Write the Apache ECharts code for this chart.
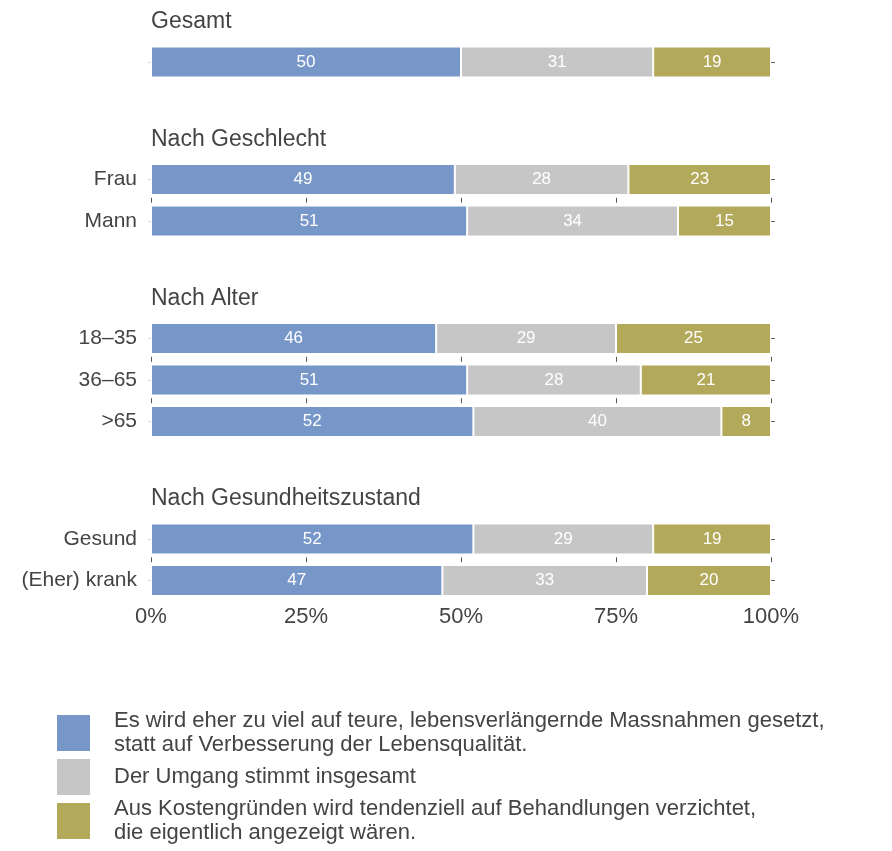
<!DOCTYPE html>
<html>
<head>
<meta charset="utf-8">
<script src="https://cdn.jsdelivr.net/npm/echarts@6/dist/echarts.min.js"></script>
<style>
  html, body { margin: 0; padding: 0; background: #fff; }
  #chart { width: 892px; height: 851px; }
</style>
</head>
<body>
<div id="chart"></div>
<script>
const categories = ['Gesamt', 'Frau', 'Mann', '18–35', '36–65', '>65', 'Gesund', '(Eher) krank']
const groups = ['Gesamt', 'Nach Geschlecht', 'Nach Alter', 'Nach Gesundheitszustand']
const groupOf = [0, 1, 1, 2, 2, 2, 3, 3]
const zuViel = [50, 49, 51, 46, 51, 52, 52, 47]
const stimmt = [31, 28, 34, 29, 28, 40, 29, 33]
const verzichtet = [19, 23, 15, 25, 21, 8, 19, 20]
const seriesNames = [
  'Es wird eher zu viel auf teure, lebensverlängernde Massnahmen gesetzt,\nstatt auf Verbesserung der Lebensqualität.',
  'Der Umgang stimmt insgesamt',
  'Aus Kostengründen wird tendenziell auf Behandlungen verzichtet,\ndie eigentlich angezeigt wären.',
]
const colors = ['#7897C9', '#C6C6C6', '#B3A95A']
const values = [zuViel, stimmt, verzichtet]

const font = 'Liberation Sans'
const rowH = 41.5
const groupGap = 76
const plotLeft = 151
const plotRight = 121

// row centres
let centers = []
let y = 62
categories.forEach((c, i) => {
  if (i > 0) y += rowH + (groupOf[i] !== groupOf[i - 1] ? groupGap : 0)
  centers.push(y)
})

const grid = [], xAxis = [], yAxis = [], series = [], title = []
categories.forEach((cat, i) => {
  const last = i === categories.length - 1
  const tickBelow = !last && groupOf[i + 1] === groupOf[i]
  // the "Gesamt" row carries no label of its own, only the heading
  const showLabel = cat !== groups[groupOf[i]]
  grid.push({ left: plotLeft, right: plotRight, top: centers[i] - rowH / 2, height: rowH })
  xAxis.push({
    gridIndex: i,
    type: 'value',
    min: 0,
    max: 100,
    interval: 25,
    offset: -2.5,
    axisLine: { show: false },
    axisTick: { show: tickBelow, length: 5, lineStyle: { color: '#555' } },
    splitLine: { show: false },
    axisLabel: {
      show: last,
      formatter: '{value}%',
      color: '#444',
      fontSize: 22,
      fontFamily: font,
      margin: 7,
    },
  })
  yAxis.push({
    gridIndex: i,
    type: 'category',
    data: [cat],
    axisLine: { show: false },
    axisTick: { show: true, alignWithLabel: true, length: 3, lineStyle: { color: '#ddd' } },
    axisLabel: { show: showLabel, color: '#444', fontSize: 21, fontFamily: font, margin: 14 },
  })
  yAxis.push({
    gridIndex: i,
    type: 'category',
    position: 'right',
    data: [cat],
    axisLine: { show: false },
    axisTick: { show: true, alignWithLabel: true, length: 4, lineStyle: { color: '#666' } },
    axisLabel: { show: false },
  })
  values.forEach((arr, s) => {
    series.push({
      name: seriesNames[s],
      type: 'bar',
      stack: 'row' + i,
      xAxisIndex: i,
      yAxisIndex: i * 2,
      barWidth: 31,
      data: [arr[i]],
      itemStyle: { color: colors[s], borderColor: '#fff', borderWidth: 1 },
      label: { show: true, color: '#fff', fontSize: 17, fontFamily: font },
      emphasis: { disabled: true },
    })
  })
})

// group headings sit one row above the group's first bar
groups.forEach((g, gi) => {
  const first = groupOf.indexOf(gi)
  title.push({
    text: g,
    left: plotLeft,
    top: centers[first] - rowH - 10,
    padding: 0,
    textStyle: { fontSize: 23, fontWeight: 'normal', color: '#444', fontFamily: font },
  })
})

const chart = echarts.init(document.getElementById('chart'))
chart.setOption({
  animation: false,
  title: title,
  grid: grid,
  xAxis: xAxis,
  yAxis: yAxis,
  series: series,
  legend: {
    data: seriesNames,
    orient: 'vertical',
    left: 55,
    top: 709,
    height: 400,
    padding: 0,
    itemWidth: 35,
    itemHeight: 38,
    itemGap: 0,
    icon: 'rect',
    selectedMode: false,
    textStyle: { fontSize: 22, lineHeight: 24, color: '#444', fontFamily: font, padding: [0, 0, 0, 18] },
  },
})
</script>
</body>
</html>
